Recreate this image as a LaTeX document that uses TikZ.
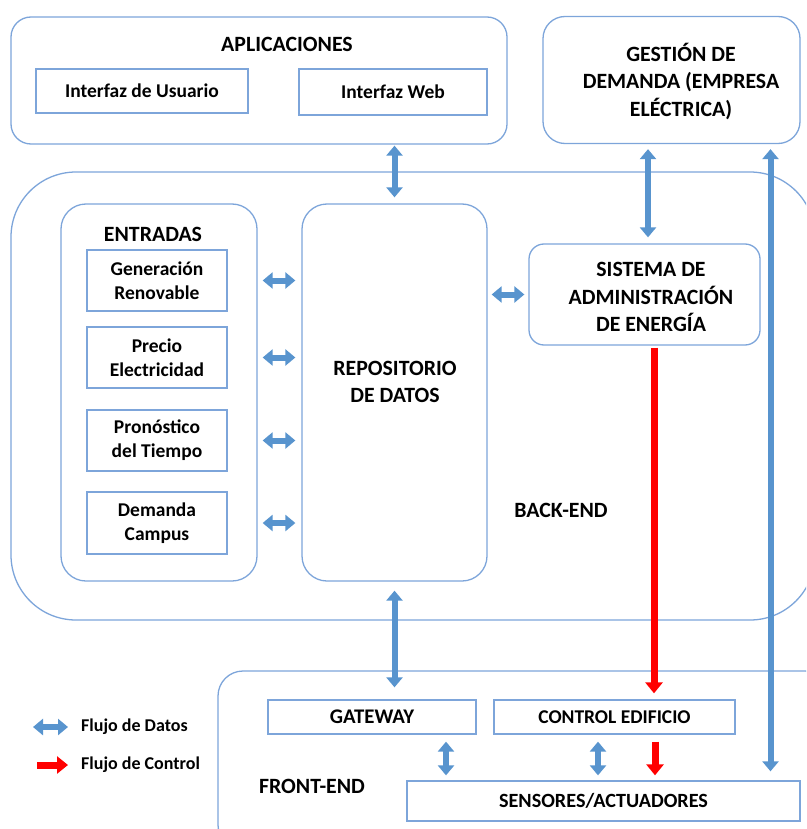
\documentclass[tikz,border=0pt]{standalone}
\usepackage{fontspec}
\setmainfont{Carlito}
\usetikzlibrary{arrows.meta}
\definecolor{bord}{RGB}{125,165,218}
\definecolor{dblue}{RGB}{88,148,206}
\definecolor{rred}{RGB}{255,0,0}
\begin{document}
\begin{tikzpicture}[x=1pt,y=-1pt,
  font=\fontsize{19.5}{26}\selectfont\bfseries,
  box/.style={draw=bord, line width=1.3pt, inner sep=0pt, align=center},
  lbl/.style={inner sep=0pt, align=center},
  ttl/.style={inner sep=0pt, align=center, font=\fontsize{21.8}{27.5}\selectfont\bfseries},
  darr/.style={draw=dblue, line width=6pt, line cap=butt,
    {Triangle[width=16pt,length=10pt]}-{Triangle[width=16pt,length=10pt]}},
  rarr/.style={draw=rred, line width=7pt, line cap=butt,
    -{Triangle[width=17pt,length=11pt]}}]
\useasboundingbox (0,0) rectangle (806,829);
\clip (0,0) rectangle (806,829);

% big containers
\node[box, rounded corners=20pt, minimum width=496pt, minimum height=127pt] (apps) at (259,80.5) {};
\node[ttl] (appst) at (287,44) {APLICACIONES};
\node[box, rounded corners=22pt, minimum width=257pt, minimum height=127pt] (gest) at (671.5,80) {};
\node[ttl] (gestt) at (681,81) {GESTIÓN DE\\DEMANDA (EMPRESA\\ELÉCTRICA)};
\node[box, rounded corners=65pt, minimum width=804pt, minimum height=448pt] (back) at (413,396) {};
\node[ttl] (backt) at (561,510) {BACK-END};
\node[box, rounded corners=25pt, minimum width=612pt, minimum height=179pt] (front) at (524,760.5) {};
\node[ttl] (frontt) at (312,786) {FRONT-END};

% applications
\node[box, minimum width=212pt, minimum height=44pt] (iu) at (142,91) {Interfaz de Usuario};
\node[box, minimum width=188pt, minimum height=46pt] (iw) at (393,92) {Interfaz Web};

% entradas
\node[box, rounded corners=25pt, minimum width=196pt, minimum height=377pt] (ent) at (159,392.5) {};
\node[ttl] (entt) at (153,234) {ENTRADAS};
\begin{scope}[font=\fontsize{19.5}{24}\selectfont\bfseries]
\node[box, minimum width=140pt, minimum height=61pt] (gen) at (157,280.5) {Generación\\Renovable};
\node[box, minimum width=140pt, minimum height=61pt] (pre) at (157,357.5) {Precio\\Electricidad};
\node[box, minimum width=140pt, minimum height=61pt] (pro) at (157,440.5) {Pronóstico\\del Tiempo};
\node[box, minimum width=140pt, minimum height=62pt] (dem) at (157,523) {Demanda\\Campus};
\end{scope}

% repository and EMS
\node[box, rounded corners=25pt, minimum width=185pt, minimum height=377pt] (repo) at (394.5,392.5) {};
\node[ttl] (repot) at (395,382) {REPOSITORIO\\DE DATOS};
\node[box, rounded corners=15pt, minimum width=231pt, minimum height=101pt] (sis) at (644.5,294.5) {};
\node[ttl] (sist) at (651,297) {SISTEMA DE\\ADMINISTRACIÓN\\DE ENERGÍA};

% front-end
\node[box, minimum width=208pt, minimum height=34pt, font=\fontsize{20.8}{24}\selectfont\bfseries] (gw) at (372,717) {GATEWAY};
\node[box, minimum width=241pt, minimum height=34pt] (ce) at (614.5,717) {CONTROL EDIFICIO};
\node[box, minimum width=393pt, minimum height=40pt, font=\fontsize{20.2}{24}\selectfont\bfseries] (sens) at (603.5,801) {SENSORES/ACTUADORES};

% data arrows
\draw[darr] ([yshift=-1pt]apps.south -| repo.north) -- ([yshift=6pt]repo.north);
\draw[darr] ([xshift=-23.5pt,yshift=-5pt]gest.south) -- ([xshift=-23.5pt,yshift=6pt]gest.south |- sis.north);
\draw[darr] ([xshift=5pt]gen.east -| ent.east) -- ([xshift=-6pt]gen.east -| repo.west);
\draw[darr] ([xshift=5pt]pre.east -| ent.east) -- ([xshift=-6pt]pre.east -| repo.west);
\draw[darr] ([xshift=5pt]pro.east -| ent.east) -- ([xshift=-6pt]pro.east -| repo.west);
\draw[darr] ([xshift=5pt]dem.east -| ent.east) -- ([xshift=-6pt]dem.east -| repo.west);
\draw[darr] ([xshift=4pt]sis.west -| repo.east) -- ([xshift=-4pt]sis.west);
\draw[darr] ([yshift=-9pt]repo.south) -- ([yshift=12pt]repo.south |- gw.north);
\draw[darr] ([xshift=74pt,yshift=-7pt]gw.south) -- ([xshift=74pt,yshift=5pt]gw.south |- sens.north);
\draw[darr] ([xshift=-16.5pt,yshift=-7pt]ce.south) -- ([xshift=-16.5pt,yshift=5pt]ce.south |- sens.north);
\draw[darr] ([xshift=99pt,yshift=-5pt]gest.south) -- ([xshift=99pt,yshift=9pt]gest.south |- sens.north);

% control arrows
\draw[rarr] ([xshift=9.5pt,yshift=-2pt]sis.south) -- ([xshift=9.5pt,yshift=6pt]sis.south |- ce.north);
\draw[rarr] ([xshift=40.5pt,yshift=-7pt]ce.south) -- ([xshift=40.5pt,yshift=5pt]ce.south |- sens.north);

% legend
\coordinate (l1a) at (33,727);
\coordinate (l1b) at (68,727);
\coordinate (l2a) at (37,765);
\coordinate (l2b) at (68,765);
\draw[darr] (l1a) -- (l1b);
\draw[rarr] (l2a) -- (l2b);
\node[lbl, anchor=west, font=\fontsize{18}{22}\selectfont\bfseries] (leg1) at (81,727) {Flujo de Datos};
\node[lbl, anchor=west, font=\fontsize{18}{22}\selectfont\bfseries] (leg2) at (81,765) {Flujo de Control};
\end{tikzpicture}
\end{document}
